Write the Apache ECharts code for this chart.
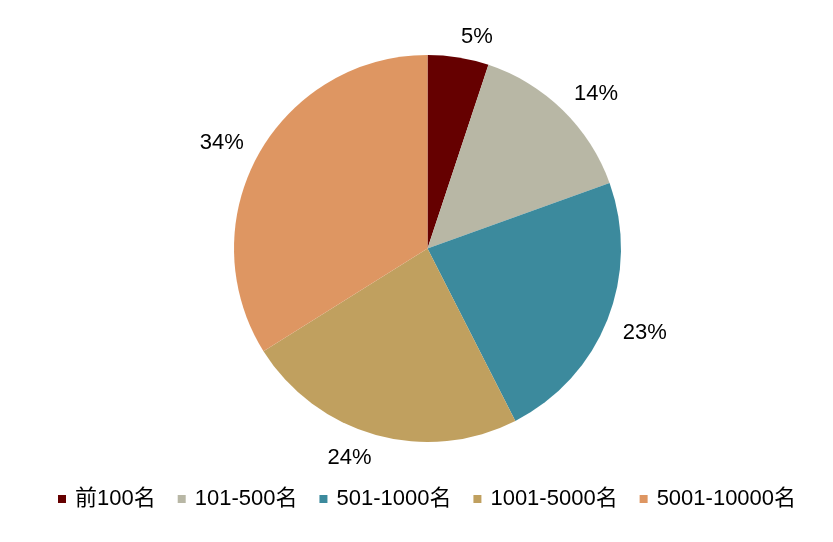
<!DOCTYPE html>
<html>
<head>
<meta charset="utf-8">
<script src="https://cdn.jsdelivr.net/npm/echarts@6/dist/echarts.min.js"></script>
<style>
html,body{margin:0;padding:0;background:#fff;}
#chart{width:833px;height:542px;}
</style>
</head>
<body>
<div id="chart"></div>
<script>
var categories = ['前100名', '101-500名', '501-1000名', '1001-5000名', '5001-10000名'];
var values = [5.1, 14.4, 23.0, 23.6, 33.9];
var colors = ['#650000', '#B8B7A5', '#3C8A9D', '#C0A05F', '#DE9662'];

var FONT = '"Liberation Sans", Arial, "Noto Sans CJK SC", sans-serif';
var FS = 22;
var CX = 427.5, CY = 248.5, R = 193.5, GAP = 16.5;

var total = values.reduce(function (a, b) { return a + b; }, 0);
var cumStart = [];
(function () { var s = 0; values.forEach(function (v) { cumStart.push(s); s += v; }); })();

var chart = echarts.init(document.getElementById('chart'));
var pieData = categories.map(function (c, i) {
  return { name: c, value: values[i], itemStyle: { color: colors[i] } };
});
chart.setOption({
  animation: false,
  backgroundColor: '#fff',
  legend: {
    data: categories,
    left: 53,
    top: 482,
    itemWidth: 8,
    itemHeight: 8,
    itemGap: 22,
    icon: 'rect',
    textStyle: { fontFamily: FONT, fontSize: FS, lineHeight: 24, color: '#000', padding: [0, 0, 0, 4] }
  },
  series: [
    {
      type: 'pie',
      center: [CX, CY],
      radius: [0, R],
      startAngle: 90,
      clockwise: true,
      itemStyle: { borderWidth: 0 },
      emphasis: { disabled: true },
      labelLine: { show: false },
      label: {
        show: true,
        position: 'outside',
        formatter: function (p) { return Math.round(p.value) + '%'; },
        fontFamily: FONT,
        fontSize: FS,
        color: '#000'
      },
      labelLayout: function (p) {
        var i = p.dataIndex;
        var mid = (cumStart[i] + values[i] / 2) / total * Math.PI * 2;
        var ux = Math.sin(mid), uy = -Math.cos(mid);
        var w = p.labelRect.width, h = FS * 0.5;
        var d = R + GAP;
        var x = CX + d * ux + (ux >= 0 ? 1 : -1) * w / 2;
        var y = CY + d * uy + (uy >= 0 ? 1 : -1) * h / 2 + 1.5;
        return { x: x, y: y, align: 'center', verticalAlign: 'middle' };
      },
      data: pieData
    }
  ]
});
</script>
</body>
</html>
